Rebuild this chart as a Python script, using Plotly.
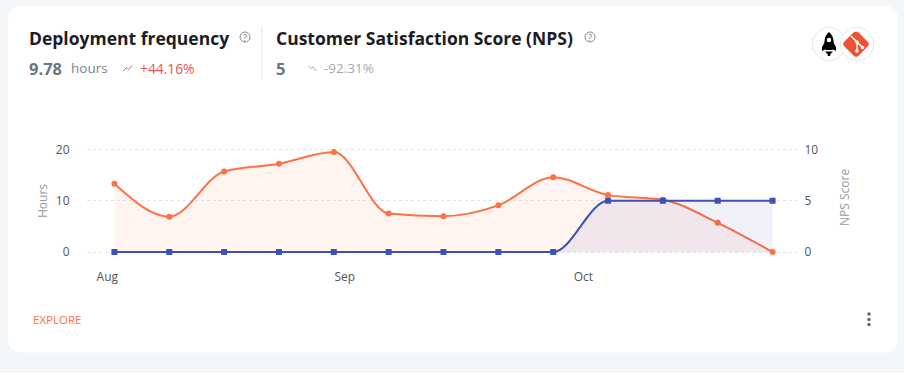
import plotly.graph_objects as go

W, H = 904, 376
points = list(range(13))
hours = [13.3, 6.9, 15.7, 17.2, 19.5, 7.5, 7.0, 9.1, 14.6, 11.1, 10.2, 5.7, 0]
nps = [0, 0, 0, 0, 0, 0, 0, 0, 0, 5, 5, 5, 5]
month_labels = ["Aug", "Sep", "Oct"]
month_ticks = [-0.13, 4.2, 8.55]
left_ticks = [0, 10, 20]
right_ticks = [0, 5, 10]

ORANGE = "#ff7043"
BLUE = "#3f51b5"
FONT = "Open Sans"


def X(p):
    return p / W


def Y(p):
    return 1 - p / H


def P(cmds):
    s = ""
    for c in cmds:
        s += (c if isinstance(c, str) else f"{X(c[0]):.5f},{Y(c[1]):.5f}") + " "
    return s.strip()


def rrect(x0, y0, x1, y1, r):
    k = r * 0.45
    return P([
        "M", (x0 + r, y0), "L", (x1 - r, y0),
        "C", (x1 - k, y0), (x1, y0 + k), (x1, y0 + r),
        "L", (x1, y1 - r),
        "C", (x1, y1 - k), (x1 - k, y1), (x1 - r, y1),
        "L", (x0 + r, y1),
        "C", (x0 + k, y1), (x0, y1 - k), (x0, y1 - r),
        "L", (x0, y0 + r),
        "C", (x0, y0 + k), (x0 + k, y0), (x0 + r, y0), "Z",
    ])


def sign(v):
    return (v > 0) - (v < 0)


def monotone(xs, ys):
    """Bezier path through the data, in the axes' own data coordinates."""
    n = len(xs)
    s = [(ys[i + 1] - ys[i]) / (xs[i + 1] - xs[i]) for i in range(n - 1)]
    t = [0.0] * n
    for i in range(1, n - 1):
        p = (s[i - 1] + s[i]) / 2
        t[i] = (sign(s[i - 1]) + sign(s[i])) * min(abs(s[i - 1]), abs(s[i]), 0.5 * abs(p))
    t[0] = (3 * s[0] - t[1]) / 2
    t[-1] = (3 * s[-1] - t[-2]) / 2
    d = f"M {xs[0]},{ys[0]}"
    for i in range(n - 1):
        h = (xs[i + 1] - xs[i]) / 3
        d += (f" C {xs[i] + h:.4f},{ys[i] + h * t[i]:.4f}"
              f" {xs[i + 1] - h:.4f},{ys[i + 1] - h * t[i + 1]:.4f}"
              f" {xs[i + 1]},{ys[i + 1]}")
    return d


shapes = []


def path(d, fill=None, line=None, lw=1):
    shapes.append(dict(type="path", path=d, xref="paper", yref="paper", layer="below",
                       fillcolor=fill or "rgba(0,0,0,0)", line=dict(color=line or "rgba(0,0,0,0)", width=lw)))


def circle(cx, cy, r, fill=None, line=None, lw=1):
    shapes.append(dict(type="circle", xref="paper", yref="paper", layer="below",
                       x0=X(cx - r), x1=X(cx + r), y0=Y(cy + r), y1=Y(cy - r),
                       fillcolor=fill or "rgba(0,0,0,0)", line=dict(color=line or "rgba(0,0,0,0)", width=lw)))


def series_shapes(xs, ys, yref, color, fill):
    curve = monotone(xs, ys)
    shapes.append(dict(type="path", xref="x", yref=yref, layer="between", fillcolor=fill, line=dict(width=0),
                       path=f"{curve} L {xs[-1]},0 L {xs[0]},0 Z"))
    shapes.append(dict(type="path", xref="x", yref=yref, layer="between", fillcolor="rgba(0,0,0,0)",
                       line=dict(color=color, width=2), path=curve))


# page band and card
path(P(["M", (0, 0), "L", (904, 0), "L", (904, 373), "L", (0, 373), "Z"]), fill="#f3f7fa")
path(rrect(8, 6, 898, 352.5, 12), fill="#ffffff")
# header divider
path(P(["M", (262, 27), "L", (262, 80)]), line="#e4e4e4", lw=1)
# help icons
for cx in (245, 590):
    circle(cx, 37, 5, line="#8a8a8a", lw=1)
# trend icons
path(P(["M", (123.5, 71), "L", (126.5, 67.5), "L", (128.5, 69.5), "L", (132, 65.5)]), line="#ea5455", lw=1)
path(P(["M", (308.5, 66), "L", (311, 68.5), "L", (313, 67), "L", (316.5, 71)]), line="#a8a8a8", lw=1)
# logos
circle(829, 44, 16.5, fill="#ffffff", line="#e8e8e8")
path(P(["M", (829, 32), "C", (824, 36), (823.5, 43), (825.5, 50), "L", (832.5, 50),
        "C", (834.5, 43), (834, 36), (829, 32), "Z"]), fill="#000000")
path(P(["M", (825, 42), "L", (822, 47), "L", (822, 51), "L", (826, 49), "Z"]), fill="#000000")
path(P(["M", (833, 42), "L", (836, 47), "L", (836, 51), "L", (832, 49), "Z"]), fill="#000000")
path(P(["M", (825, 51.5), "L", (833, 51.5), "L", (830.5, 54), "L", (830, 56), "L", (828, 56), "L", (827.5, 54), "Z"]),
     fill="#000000")
circle(829, 40, 2.2, fill="#ffffff")
circle(857, 44, 16.5, fill="#ffffff", line="#e8e8e8")
path(P(["M", (853.5, 32.5), "L", (856, 31.5), "L", (858.5, 32.5), "L", (868, 42), "L", (869, 44), "L", (868, 46),
        "L", (858.5, 56), "L", (856, 57), "L", (854, 56), "L", (844, 46), "L", (843, 44), "L", (844, 42), "Z"]),
     fill="#f05133")
path(P(["M", (851, 36), "L", (857, 42), "L", (857, 51)]), line="#ffffff", lw=1.5)
path(P(["M", (857, 42), "L", (862.5, 47.5)]), line="#ffffff", lw=1.5)
for c in ((857, 42), (857, 51), (862.5, 47.5)):
    circle(c[0], c[1], 1.8, fill="#ffffff")
# kebab menu
for cy in (314, 319.5, 324.5):
    circle(869, cy, 1.8, fill="#6b6b6b")

series_shapes(points, hours, "y", ORANGE, "rgba(255,112,67,0.08)")
series_shapes(points, nps, "y2", BLUE, "rgba(63,81,181,0.08)")


def note(x, y, text, size, color, weight=400, anchor="left", angle=0):
    return dict(x=X(x), y=Y(y), xref="paper", yref="paper", text=text, showarrow=False,
                xanchor=anchor, yanchor="middle", textangle=angle, borderpad=0,
                font=dict(family=FONT, size=size, color=color, weight=weight))


annotations = [
    note(28, 38.5, "Deployment frequency", 17.5, "#1c1c24", 700),
    note(275, 38.5, "Customer Satisfaction Score (NPS)", 17.5, "#1c1c24", 700),
    note(28, 68.5, "9.78", 16.5, "#6c757d", 700),
    note(70, 68.5, "hours", 13.5, "#7b838a"),
    note(139, 68.5, "+44.16%", 13.8, "#ea5455"),
    note(275, 68.5, "5", 16.5, "#6c757d", 700),
    note(323, 68.5, "-92.31%", 13.5, "#a8a8a8"),
    note(245, 37, "?", 9, "#777777", anchor="center"),
    note(590, 37, "?", 9, "#777777", anchor="center"),
    note(32, 319, "EXPLORE", 11.5, ORANGE),
    note(43, 201, "Hours", 12, "#9a9a9a", anchor="center", angle=-90),
    note(845, 198, "NPS Score", 12, "#9a9a9a", anchor="center", angle=-90),
]

fig = go.Figure()
fig.add_trace(go.Scatter(
    x=points, y=hours, yaxis="y", mode="markers", cliponaxis=False,
    marker=dict(color=ORANGE, size=6, symbol="circle"), showlegend=False))
fig.add_trace(go.Scatter(
    x=points, y=nps, yaxis="y2", mode="markers", cliponaxis=False,
    marker=dict(color=BLUE, size=6, symbol="square"), showlegend=False))

tick_font = dict(family=FONT, size=12, color="#555555")
domain = [Y(257.125), Y(144.375)]
fig.update_layout(
    width=W, height=H, margin=dict(l=0, r=0, t=0, b=0, autoexpand=False),
    paper_bgcolor="#ffffff", plot_bgcolor="rgba(0,0,0,0)", showlegend=False,
    shapes=shapes, annotations=annotations,
    xaxis=dict(domain=[X(87), X(800)], range=[-0.5, 12.5], tickvals=month_ticks, ticktext=month_labels,
               showgrid=False, zeroline=False, showline=False, ticks="outside", ticklen=8,
               tickcolor="rgba(0,0,0,0)", tickfont=tick_font, anchor="y"),
    yaxis=dict(domain=domain, range=[-1, 21], tickvals=left_ticks, side="left", anchor="x",
               ticks="outside", ticklen=14, tickcolor="rgba(0,0,0,0)", tickfont=tick_font,
               showgrid=True, gridcolor="#d9e8f3", griddash="3px,3px", gridwidth=1,
               zeroline=False, showline=False),
    yaxis2=dict(domain=domain, range=[-0.5, 10.5], tickvals=right_ticks, side="right",
                anchor="x", ticks="outside", ticklen=1, tickcolor="rgba(0,0,0,0)", tickfont=tick_font,
                showgrid=False, zeroline=False, showline=False),
)
fig.write_html("out.html", config=dict(displayModeBar=False),
               post_script="document.body.style.margin='0';document.body.style.overflow='hidden';")
